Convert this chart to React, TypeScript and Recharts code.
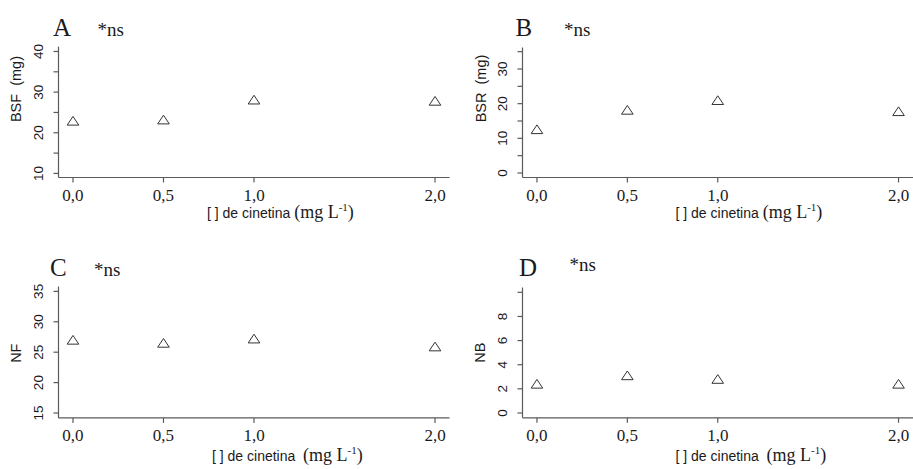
import React from "react";
import { ScatterChart, Scatter, XAxis, YAxis, Label } from "recharts";

// Kinetin concentration (mg L-1) and the four response variables
const doses = [0, 0.5, 1, 2];
const doseLabels = ["0,0", "0,5", "1,0", "2,0"];
const bsf = [22.6, 22.9, 27.8, 27.5]; // BSF (mg)
const bsr = [12.2, 17.8, 20.6, 17.4]; // BSR (mg)
const nf = [26.8, 26.3, 27.0, 25.7]; // NF
const nb = [2.3, 3.0, 2.7, 2.3]; // NB

const SERIF = "'Liberation Serif', 'Times New Roman', serif";
const SANS = "'Liberation Sans', Arial, sans-serif";
const AXIS = "#5a5a5a";
const INK = "#1a1a1a";

type Panel = {
  letter: string;
  yTitle: string;
  values: number[];
  domain: [number, number];
  ticks: number[];
  labeled: number[];
  left: number;
  top: number;
  width: number;
  height: number;
  margin: { top: number; right: number; left: number; bottom: number };
  yAxisWidth: number;
  xAxisHeight: number;
  yTitleShift: number;
  xTitleOffset: number;
  xTitleGap: string;
  xTitleDrop: number;
  letterX: number;
  letterY: number;
  nsX: number;
  nsY: number;
};

const panels: Panel[] = [
  {
    letter: "A",
    yTitle: "BSF  (mg)",
    values: bsf,
    domain: [9.0, 41.2],
    ticks: [10, 15, 20, 25, 30, 35, 40],
    labeled: [10, 20, 30, 40],
    left: 0,
    top: 0,
    width: 456,
    height: 234,
    margin: { top: 46.6, right: 6.5, left: 0, bottom: 0 },
    yAxisWidth: 58.5,
    xAxisHeight: 56.5,
    yTitleShift: -23,
    xTitleOffset: 148.5,
    xTitleGap: " ",
    xTitleDrop: 40.5,
    letterX: 53,
    letterY: 36,
    nsX: 97.5,
    nsY: 36,
  },
  {
    letter: "B",
    yTitle: "BSR  (mg)",
    values: bsr,
    domain: [-1.3, 36.2],
    ticks: [0, 5, 10, 15, 20, 25, 30, 35],
    labeled: [0, 10, 20, 30],
    left: 456,
    top: 0,
    width: 457,
    height: 234,
    margin: { top: 47.5, right: 0, left: 0, bottom: 0 },
    yAxisWidth: 66.5,
    xAxisHeight: 56.5,
    yTitleShift: -24,
    xTitleOffset: 153,
    xTitleGap: " ",
    xTitleDrop: 40.5,
    letterX: 59.5,
    letterY: 36,
    nsX: 108,
    nsY: 36,
  },
  {
    letter: "C",
    yTitle: "NF",
    values: nf,
    domain: [14.2, 35.8],
    ticks: [15, 20, 25, 30, 35],
    labeled: [15, 20, 25, 30, 35],
    left: 0,
    top: 234,
    width: 456,
    height: 235,
    margin: { top: 52.5, right: 6.5, left: 0, bottom: 0 },
    yAxisWidth: 58.5,
    xAxisHeight: 51.1,
    yTitleShift: 1,
    xTitleOffset: 153.5,
    xTitleGap: "  ",
    xTitleDrop: 43,
    letterX: 50,
    letterY: 41.5,
    nsX: 94,
    nsY: 41.5,
  },
  {
    letter: "D",
    yTitle: "NB",
    values: nb,
    domain: [-0.4, 10.4],
    ticks: [0, 2, 4, 6, 8, 10],
    labeled: [0, 2, 4, 6, 8],
    left: 456,
    top: 234,
    width: 457,
    height: 235,
    margin: { top: 53.5, right: 0, left: 0, bottom: 0 },
    yAxisWidth: 66.5,
    xAxisHeight: 51.2,
    yTitleShift: 0,
    xTitleOffset: 153,
    xTitleGap: "  ",
    xTitleDrop: 43,
    letterX: 63,
    letterY: 41.5,
    nsX: 113.5,
    nsY: 37,
  },
];

// Open triangle centred on its centroid (R's pch = 2)
const Triangle = (props: any) => {
  const { cx, cy } = props;
  if (cx == null || cy == null) return null;
  const half = 5.8;
  const points = `${cx},${cy - 5.8} ${cx - half},${cy + 2.9} ${cx + half},${cy + 2.9}`;
  return <polygon points={points} fill="none" stroke="#333" strokeWidth={1} />;
};

const xTick = (props: any) => {
  const { x, y, payload } = props;
  const i = doses.indexOf(payload.value);
  return (
    <text x={x} y={y + 16} textAnchor="middle" fontFamily={SERIF} fontSize={17} fill={INK}>
      {i >= 0 ? doseLabels[i] : ""}
    </text>
  );
};

const makeYTick = (labeled: number[]) => (props: any) => {
  const { x, y, payload } = props;
  if (!labeled.includes(payload.value)) return <g />;
  const bx = x - 8;
  return (
    <text
      x={bx}
      y={y}
      transform={`rotate(-90 ${bx} ${y})`}
      textAnchor="middle"
      fontFamily={SANS}
      fontSize={13.5}
      fill={INK}
    >
      {String(payload.value)}
    </text>
  );
};

function PanelChart({ p }: { p: Panel }) {
  const data = doses.map((d, i) => ({ x: d, y: p.values[i] }));

  const yDecor = (props: any) => {
    const vb = props.viewBox || {};
    const axisX = vb.x + vb.width;
    const cy = vb.y + vb.height / 2 + p.yTitleShift;
    const tx = axisX - 37;
    return (
      <g>
        <text
          x={tx}
          y={cy}
          transform={`rotate(-90 ${tx} ${cy})`}
          textAnchor="middle"
          fontFamily={SANS}
          fontSize={14.5}
          fill={INK}
          style={{ whiteSpace: "pre" }}
        >
          {p.yTitle}
        </text>
        <text x={p.letterX} y={p.letterY} fontFamily={SERIF} fontSize={25} fill={INK}>
          {p.letter}
        </text>
        <text x={p.nsX} y={p.nsY} fontFamily={SERIF} fontSize={19} fill={INK}>
          *ns
        </text>
      </g>
    );
  };

  const xTitle = (props: any) => {
    const vb = props.viewBox || {};
    const tx = vb.x + p.xTitleOffset;
    const ty = vb.y + p.xTitleDrop;
    return (
      <text x={tx} y={ty} fill={INK} style={{ whiteSpace: "pre" }}>
        <tspan fontFamily={SANS} fontSize={14}>
          {"[ ] de cinetina" + p.xTitleGap}
        </tspan>
        <tspan fontFamily={SERIF} fontSize={18}>
          (mg L
        </tspan>
        <tspan fontFamily={SERIF} fontSize={11} dy={-7}>
          -1
        </tspan>
        <tspan fontFamily={SERIF} fontSize={18} dy={7}>
          )
        </tspan>
      </text>
    );
  };

  return (
    <div style={{ position: "absolute", left: p.left, top: p.top }}>
      <ScatterChart width={p.width} height={p.height} margin={p.margin}>
        <XAxis
          type="number"
          dataKey="x"
          domain={[-0.08, 2.08]}
          ticks={doses}
          interval={0}
          allowDataOverflow
          height={p.xAxisHeight}
          tickSize={5}
          tickMargin={2}
          axisLine={{ stroke: AXIS, strokeWidth: 1.2 }}
          tickLine={{ stroke: AXIS, strokeWidth: 1.2 }}
          tick={xTick}
        >
          <Label content={xTitle} />
        </XAxis>
        <YAxis
          type="number"
          dataKey="y"
          domain={p.domain}
          ticks={p.ticks}
          interval={0}
          allowDataOverflow
          width={p.yAxisWidth}
          tickSize={5}
          tickMargin={2}
          axisLine={{ stroke: AXIS, strokeWidth: 1.2 }}
          tickLine={{ stroke: AXIS, strokeWidth: 1.2 }}
          tick={makeYTick(p.labeled)}
        >
          <Label content={yDecor} />
        </YAxis>
        <Scatter data={data} shape={Triangle} isAnimationActive={false} />
      </ScatterChart>
    </div>
  );
}

export default function App() {
  return (
    <div
      style={{
        position: "absolute",
        left: 0,
        top: 0,
        width: 913,
        height: 469,
        background: "#ffffff",
        overflow: "hidden",
      }}
    >
      {panels.map((p) => (
        <PanelChart key={p.letter} p={p} />
      ))}
    </div>
  );
}
